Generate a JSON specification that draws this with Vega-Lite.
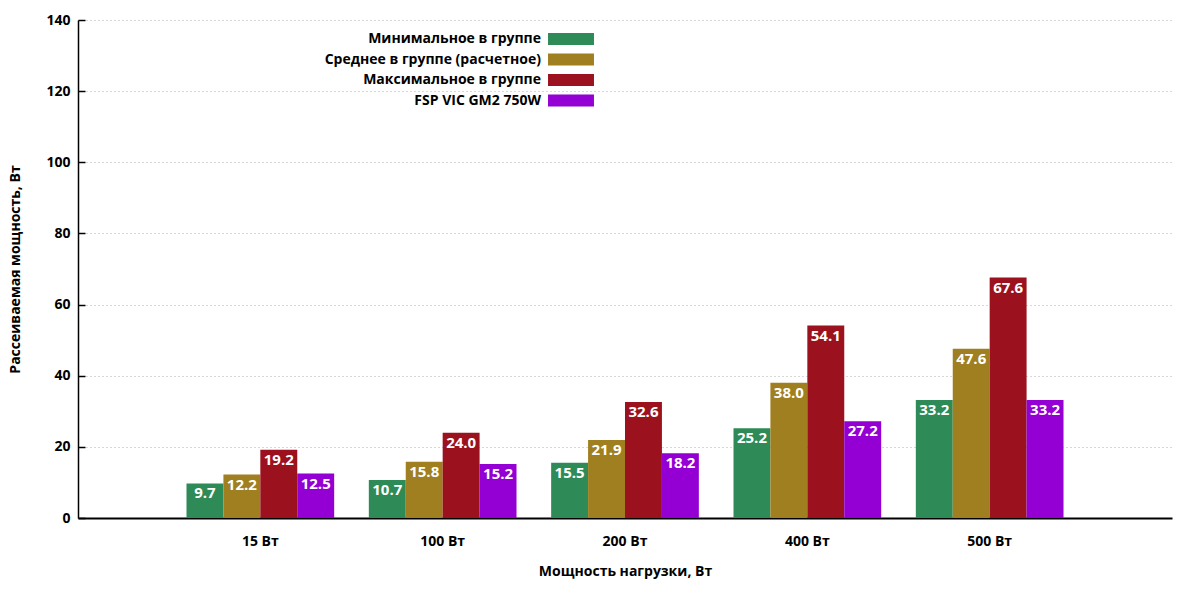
{
  "$schema": "https://vega.github.io/schema/vega-lite/v6.json",
  "width": 1094,
  "height": 498,
  "autosize": "none",
  "padding": {"left": 78, "top": 20, "right": 28, "bottom": 82},
  "background": "white",
  "config": {
    "font": "Open Sans",
    "view": {"stroke": null},
    "axis": {
      "labelFont": "Open Sans",
      "labelFontWeight": "bold",
      "labelFontSize": 14,
      "labelColor": "black",
      "titleFont": "Open Sans",
      "titleFontWeight": "bold",
      "titleFontSize": 14,
      "titleColor": "black",
      "domainColor": "black",
      "tickColor": "black"
    }
  },
  "data": {
    "values": [
      {"load": "15 Вт", "series": "Минимальное в группе", "value": 9.7},
      {"load": "15 Вт", "series": "Среднее в группе (расчетное)", "value": 12.2},
      {"load": "15 Вт", "series": "Максимальное в группе", "value": 19.2},
      {"load": "15 Вт", "series": "FSP VIC GM2 750W", "value": 12.5},
      {"load": "100 Вт", "series": "Минимальное в группе", "value": 10.7},
      {"load": "100 Вт", "series": "Среднее в группе (расчетное)", "value": 15.8},
      {"load": "100 Вт", "series": "Максимальное в группе", "value": 24.0},
      {"load": "100 Вт", "series": "FSP VIC GM2 750W", "value": 15.2},
      {"load": "200 Вт", "series": "Минимальное в группе", "value": 15.5},
      {"load": "200 Вт", "series": "Среднее в группе (расчетное)", "value": 21.9},
      {"load": "200 Вт", "series": "Максимальное в группе", "value": 32.6},
      {"load": "200 Вт", "series": "FSP VIC GM2 750W", "value": 18.2},
      {"load": "400 Вт", "series": "Минимальное в группе", "value": 25.2},
      {"load": "400 Вт", "series": "Среднее в группе (расчетное)", "value": 38.0},
      {"load": "400 Вт", "series": "Максимальное в группе", "value": 54.1},
      {"load": "400 Вт", "series": "FSP VIC GM2 750W", "value": 27.2},
      {"load": "500 Вт", "series": "Минимальное в группе", "value": 33.2},
      {"load": "500 Вт", "series": "Среднее в группе (расчетное)", "value": 47.6},
      {"load": "500 Вт", "series": "Максимальное в группе", "value": 67.6},
      {"load": "500 Вт", "series": "FSP VIC GM2 750W", "value": 33.2}
    ]
  },
  "encoding": {
    "x": {
      "field": "load",
      "type": "nominal",
      "sort": ["15 Вт", "100 Вт", "200 Вт", "400 Вт", "500 Вт"],
      "scale": {"paddingInner": 0.19, "paddingOuter": 0.595},
      "axis": {
        "labelAngle": 0,
        "ticks": false,
        "domainWidth": 2,
        "labelPadding": 16,
        "title": "Мощность нагрузки, Вт",
        "titleY": 53,
        "titleBaseline": "middle"
      }
    },
    "xOffset": {
      "field": "series",
      "type": "nominal",
      "sort": ["Минимальное в группе", "Среднее в группе (расчетное)", "Максимальное в группе", "FSP VIC GM2 750W"],
      "scale": {"paddingInner": 0, "paddingOuter": 0}
    },
    "y": {
      "field": "value",
      "type": "quantitative",
      "scale": {"domain": [0, 140], "nice": false},
      "axis": {
        "values": [0, 20, 40, 60, 80, 100, 120, 140],
        "tickSize": -7,
        "tickWidth": 1.5,
        "domainWidth": 1.5,
        "labelPadding": 15,
        "grid": true,
        "gridColor": "#b0b0b0",
        "gridDash": [1, 3],
        "gridWidth": 1,
        "title": "Рассеиваемая мощность, Вт",
        "titleX": -63,
        "titleY": 249,
        "titleBaseline": "middle"
      }
    }
  },
  "layer": [
    {
      "mark": {"type": "bar"},
      "encoding": {
        "color": {
          "field": "series",
          "type": "nominal",
          "sort": ["Минимальное в группе", "Среднее в группе (расчетное)", "Максимальное в группе", "FSP VIC GM2 750W"],
          "scale": {
            "domain": ["Минимальное в группе", "Среднее в группе (расчетное)", "Максимальное в группе", "FSP VIC GM2 750W"],
            "range": ["#2e8b57", "#a07f20", "#9b111e", "#9400d3"]
          },
          "legend": {
            "title": null,
            "orient": "none",
            "legendX": 486,
            "legendY": 12,
            "padding": 0,
            "symbolType": "M-3.83,-1L3.83,-1L3.83,1L-3.83,1Z",
            "symbolSize": 144,
            "symbolStrokeWidth": 0,
            "symbolOpacity": 1,
            "labelAlign": "right",
            "labelOffset": -37,
            "labelFont": "Open Sans",
            "labelFontWeight": "bold",
            "labelFontSize": 14,
            "labelColor": "black",
            "labelLimit": 400,
            "rowPadding": 6.5
          }
        }
      }
    },
    {
      "mark": {
        "type": "text",
        "baseline": "top",
        "dy": 3,
        "color": "white",
        "font": "Open Sans",
        "fontWeight": "bold",
        "fontSize": 15
      },
      "encoding": {
        "text": {"field": "value", "type": "quantitative", "format": ".1f"}
      }
    }
  ]
}
